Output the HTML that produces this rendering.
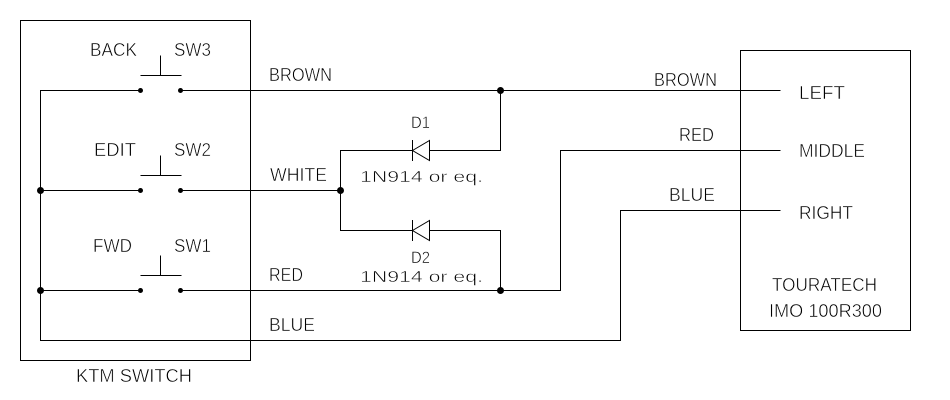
<!DOCTYPE html>
<html><head><meta charset="utf-8"><style>
html,body{margin:0;padding:0;background:#fff;}
svg{display:block;}
text{font-family:"Liberation Sans",sans-serif;fill:#000;stroke:#fff;stroke-width:0.5px;}
.t{font-size:18px;}
.s{font-size:16px;}
</style></head><body>
<svg width="950" height="400" viewBox="0 0 950 400" xmlns="http://www.w3.org/2000/svg">
<g stroke="#000" stroke-width="1" fill="none">
<rect x="20.5" y="20.5" width="230" height="340"/>
<rect x="740.5" y="50.5" width="170" height="280"/>
<polyline points="140.5,90.5 40.5,90.5 40.5,340.5 620.5,340.5 620.5,210.5 780.5,210.5"/>
<line x1="40.5" y1="190.5" x2="140.5" y2="190.5"/>
<line x1="40.5" y1="290.5" x2="140.5" y2="290.5"/>
<line x1="180.5" y1="90.5" x2="780.5" y2="90.5"/>
<line x1="180.5" y1="190.5" x2="340.5" y2="190.5"/>
<polyline points="412.5,150.5 340.5,150.5 340.5,230.5 412.5,230.5"/>
<polyline points="429.5,150.5 500.5,150.5 500.5,90.5"/>
<polyline points="429.5,230.5 500.5,230.5 500.5,290.5"/>
<polyline points="180.5,290.5 560.5,290.5 560.5,150.5 780.5,150.5"/>
<line x1="140.5" y1="75.5" x2="181.5" y2="75.5"/>
<line x1="160.5" y1="55.5" x2="160.5" y2="75.5"/>
<line x1="140.5" y1="175.5" x2="181.5" y2="175.5"/>
<line x1="160.5" y1="155.5" x2="160.5" y2="175.5"/>
<line x1="140.5" y1="275.5" x2="181.5" y2="275.5"/>
<line x1="160.5" y1="255.5" x2="160.5" y2="275.5"/>
<line x1="412.5" y1="140" x2="412.5" y2="161"/>
<polygon points="412.5,150.5 429.5,140.5 429.5,160.5"/>
<line x1="412.5" y1="220" x2="412.5" y2="241"/>
<polygon points="412.5,230.5 429.5,220.5 429.5,240.5"/>
</g>
<g fill="#000">
<circle cx="140.5" cy="90.5" r="2.5"/><circle cx="180.5" cy="90.5" r="2.5"/>
<circle cx="140.5" cy="190.5" r="2.5"/><circle cx="180.5" cy="190.5" r="2.5"/>
<circle cx="140.5" cy="290.5" r="2.5"/><circle cx="180.5" cy="290.5" r="2.5"/>
<circle cx="40.5" cy="190.5" r="3.5"/><circle cx="40.5" cy="290.5" r="3.5"/>
<circle cx="340.5" cy="190.5" r="3.5"/>
<circle cx="500.5" cy="90.5" r="3.5"/><circle cx="500.5" cy="290.5" r="3.5"/>
</g>
<text class="t" x="90" y="56" textLength="47" lengthAdjust="spacingAndGlyphs">BACK</text>
<text class="t" x="174" y="56" textLength="37" lengthAdjust="spacingAndGlyphs">SW3</text>
<text class="t" x="94" y="156" textLength="42" lengthAdjust="spacingAndGlyphs">EDIT</text>
<text class="t" x="174" y="156" textLength="37" lengthAdjust="spacingAndGlyphs">SW2</text>
<text class="t" x="93" y="252" textLength="39" lengthAdjust="spacingAndGlyphs">FWD</text>
<text class="t" x="174" y="252" textLength="37" lengthAdjust="spacingAndGlyphs">SW1</text>
<text class="t" x="269" y="81" textLength="63" lengthAdjust="spacingAndGlyphs">BROWN</text>
<text class="t" x="270" y="181" textLength="57" lengthAdjust="spacingAndGlyphs">WHITE</text>
<text class="t" x="269" y="281" textLength="34" lengthAdjust="spacingAndGlyphs">RED</text>
<text class="t" x="269" y="331" textLength="46" lengthAdjust="spacingAndGlyphs">BLUE</text>
<text class="t" x="76" y="382" textLength="116" lengthAdjust="spacingAndGlyphs">KTM SWITCH</text>
<text class="s" x="411" y="128" textLength="19" lengthAdjust="spacingAndGlyphs" style="font-size:17px">D1</text>
<text class="s" x="360" y="182" textLength="123" lengthAdjust="spacingAndGlyphs">1N914 or eq.</text>
<text class="s" x="411" y="263" textLength="19" lengthAdjust="spacingAndGlyphs" style="font-size:17px">D2</text>
<text class="s" x="360" y="282" textLength="123" lengthAdjust="spacingAndGlyphs">1N914 or eq.</text>
<text class="t" x="654" y="86" textLength="63" lengthAdjust="spacingAndGlyphs">BROWN</text>
<text class="t" x="679" y="141" textLength="35" lengthAdjust="spacingAndGlyphs">RED</text>
<text class="t" x="669" y="201" textLength="46" lengthAdjust="spacingAndGlyphs">BLUE</text>
<text class="t" x="799" y="99" textLength="46" lengthAdjust="spacingAndGlyphs">LEFT</text>
<text class="t" x="799" y="157" textLength="66" lengthAdjust="spacingAndGlyphs">MIDDLE</text>
<text class="t" x="799" y="219" textLength="54" lengthAdjust="spacingAndGlyphs">RIGHT</text>
<text class="t" x="772" y="291" textLength="105" lengthAdjust="spacingAndGlyphs">TOURATECH</text>
<text class="t" x="769" y="317" textLength="113" lengthAdjust="spacingAndGlyphs">IMO 100R300</text>
</svg>
</body></html>
